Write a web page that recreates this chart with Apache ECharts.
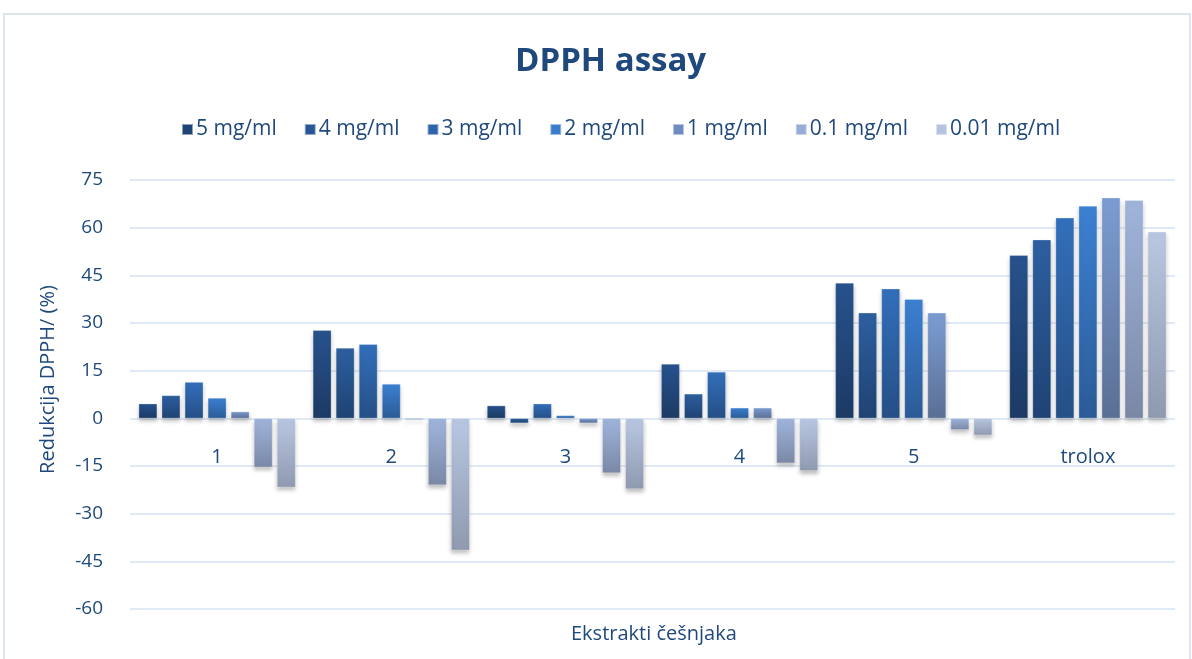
<!DOCTYPE html>
<html>
<head>
<meta charset="utf-8">
<style>html,body{margin:0;padding:0;background:#fff;}#c{width:1192px;height:659px;}</style>
<script src="https://cdn.jsdelivr.net/npm/echarts@6/dist/echarts.min.js"></script>
</head>
<body>
<div id="c"></div>
<script>
const categories = ['1', '2', '3', '4', '5', 'trolox'];
const seriesNames = ['5 mg/ml', '4 mg/ml', '3 mg/ml', '2 mg/ml', '1 mg/ml', '0.1 mg/ml', '0.01 mg/ml'];
const s5mg   = [4.6, 27.7, 4.0, 17.1, 42.6, 51.3];
const s4mg   = [7.2, 22.1, -1.5, 7.7, 33.2, 56.2];
const s3mg   = [11.4, 23.3, 4.6, 14.6, 40.8, 63.1];
const s2mg   = [6.4, 10.8, 0.9, 3.3, 37.5, 66.8];
const s1mg   = [2.1, -0.4, -1.5, 3.3, 33.2, 69.4];
const s01mg  = [-15.4, -21.0, -17.2, -14.1, -3.6, 68.6];
const s001mg = [-21.7, -41.5, -22.2, -16.5, -5.3, 58.7];
const yTicks = { min: -60, max: 75, interval: 15 };

const allData = [s5mg, s4mg, s3mg, s2mg, s1mg, s01mg, s001mg];
const tops    = ['#27528d', '#2d5fa0', '#336fbb', '#3c80d2', '#7b9dd3', '#a0b5dc', '#b9c7e2'];
const bottoms = ['#1c3a64', '#1f4373', '#254f86', '#2b5b97', '#5b6f94', '#7a88a6', '#8f9ab0'];
const legendCols = ['#1f4477', '#275694', '#2d64ad', '#3b7ccc', '#6f8cc0', '#97acd5', '#b5c3df'];
const FONT = 'Open Sans';
const TXT = '#1f497d';

const GRID = { left: 130, right: 17, top: 180, bottom: 50 };
const plotH = 659 - GRID.top - GRID.bottom;
// distance from bottom edge of plot to the zero line, via the y range
const zeroOffset = plotH * (0 - yTicks.min) / (yTicks.max - yTicks.min);

const chart = echarts.init(document.getElementById('c'));
chart.setOption({
  backgroundColor: '#fff',
  animation: false,
  textStyle: { fontFamily: FONT },
  title: {
    text: 'DPPH assay', left: 510, top: 40,
    textStyle: { fontFamily: FONT, fontSize: 33, fontWeight: 'bold', color: TXT }
  },
  legend: {
    top: 114, left: 176, itemWidth: 11, itemHeight: 11, itemGap: 27,
    icon: 'rect',
    textStyle: { fontFamily: FONT, fontSize: 21, color: TXT, padding: [0, 0, 0, -2] },
    data: seriesNames.map((n, i) => ({ name: n, itemStyle: { color: legendCols[i] } }))
  },
  grid: GRID,
  xAxis: {
    type: 'category', data: categories,
    offset: -zeroOffset,
    axisLine: { show: false, onZero: false },
    axisTick: { show: false },
    axisLabel: { margin: 29, fontSize: 20, color: TXT, fontFamily: FONT }
  },
  yAxis: {
    type: 'value', min: yTicks.min, max: yTicks.max, interval: yTicks.interval,
    name: 'Redukcija DPPH/ (%)', nameLocation: 'middle', nameGap: 72, nameRotate: 90,
    nameTextStyle: { fontSize: 20, color: TXT, fontFamily: FONT, padding: [0, 0, 0, 30] },
    axisLabel: { margin: 27, fontSize: 19, color: TXT, fontFamily: FONT },
    axisLine: { show: false }, axisTick: { show: false },
    splitLine: { lineStyle: { color: '#d6e3f3', width: 1.5 } }
  },
  graphic: [
    { type: 'rect', shape: { x: 4, y: 14, width: 1186, height: 652 }, style: { fill: 'none', stroke: '#dbe4ef', lineWidth: 2 }, z: -1 },
    { type: 'text', left: 571, top: 624, style: { text: 'Ekstrakti češnjaka', font: '20px ' + FONT, fill: TXT } }
  ],
  series: allData.map((d, i) => ({
    name: seriesNames[i], type: 'bar', data: d,
    barGap: '25%', barCategoryGap: '10%',
    itemStyle: {
      color: new echarts.graphic.LinearGradient(0, 0, 0, 1, [
        { offset: 0, color: tops[i] }, { offset: 1, color: bottoms[i] }
      ]),
      borderColor: 'rgba(255,255,255,0.5)', borderWidth: 0.5,
      shadowColor: 'rgba(0,0,0,0.25)', shadowBlur: 4, shadowOffsetY: 3
    }
  }))
});
</script>
</body>
</html>
